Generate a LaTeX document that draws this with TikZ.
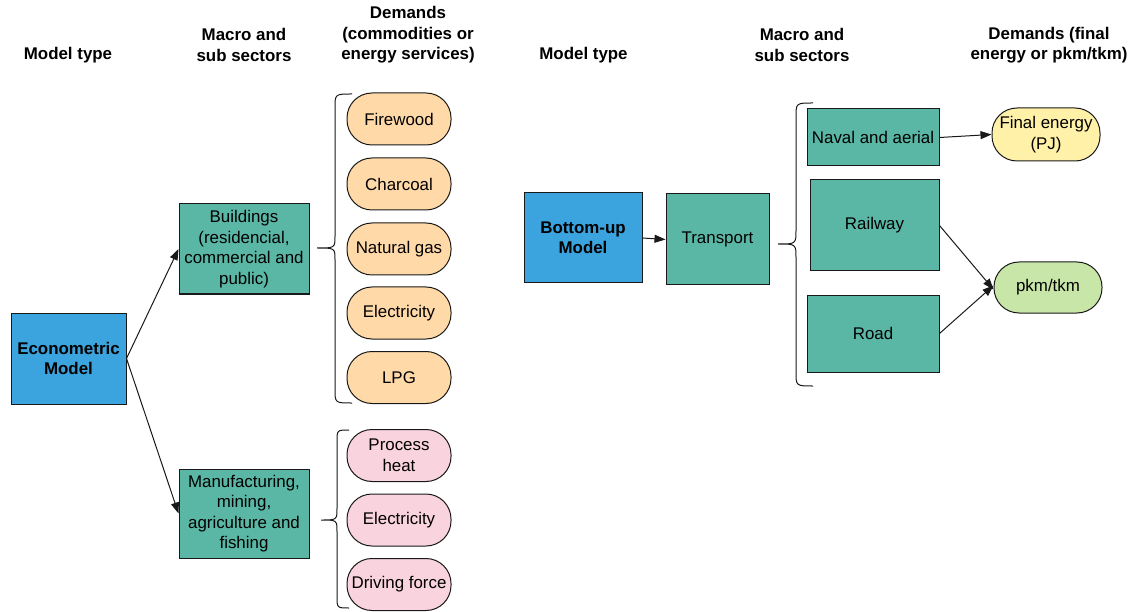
\documentclass[tikz,border=0pt]{standalone}
\usepackage{fontspec}
\setmainfont{Liberation Sans}
\usetikzlibrary{arrows.meta}
\definecolor{modelblue}{RGB}{59,163,222}
\definecolor{sector}{RGB}{90,183,165}
\definecolor{demorange}{RGB}{255,218,168}
\definecolor{dempink}{RGB}{249,211,222}
\definecolor{demyellow}{RGB}{255,241,168}
\definecolor{demgreen}{RGB}{200,230,168}
\definecolor{edge}{RGB}{25,25,25}
\begin{document}
\begin{tikzpicture}[x=1pt,y=-1pt,
  every node/.style={font=\fontsize{16.9}{20.5}\selectfont, align=center, inner sep=0pt},
  header/.style={font=\fontsize{16.9}{20.5}\selectfont\bfseries},
  modelbox/.style={draw=edge, line width=1pt, fill=modelblue, font=\fontsize{16.9}{20.5}\selectfont\bfseries},
  sectorbox/.style={draw=edge, line width=1pt, fill=sector},
  pill/.style={draw=edge, line width=1pt, rounded corners=25pt, minimum width=104pt, minimum height=52pt},
  orangepill/.style={pill, fill=demorange},
  pinkpill/.style={pill, fill=dempink},
  conn/.style={draw=edge, line width=1pt, -{Triangle[length=11pt,width=8pt]}},
  bracestyle/.style={draw=edge, line width=1pt}
]
\useasboundingbox (0,0) rectangle (1132,612);

% headers
\node[header] (h1) at (68,55) {Model type};
\node[header] (h2) at (244,45) {Macro and\\sub sectors};
\node[header] (h3) at (408,35) {Demands\\(commodities or\\energy services)};
\node[header] (h4) at (583.5,55) {Model type};
\node[header] (h5) at (802,45) {Macro and\\sub sectors};
\node[header] (h6) at (1049,45) {Demands (final\\energy or pkm/tkm)};

% left side
\node[modelbox, minimum width=115pt, minimum height=91pt] (econ) at (68.5,358.5) {Econometric\\Model};
\node[sectorbox, minimum width=130pt, minimum height=90pt] (build) at (244,249) {Buildings\\(residencial,\\commercial and\\public)};
\node[sectorbox, minimum width=130pt, minimum height=89pt] (manuf) at (244,513.5) {Manufacturing,\\mining,\\agriculture and\\fishing};

\node[orangepill] (fire) at (399,119) {Firewood};
\node[orangepill] (char) at (399,184) {Charcoal};
\node[orangepill] (gas) at (399,249) {Natural gas};
\node[orangepill] (elec1) at (399,313) {Electricity};
\node[orangepill] (lpg) at (399,377.5) {LPG};

\node[pinkpill] (heat) at (399,455.5) {Process\\heat};
\node[pinkpill] (elec2) at (399,520) {Electricity};
\node[pinkpill] (drive) at (399,584.5) {Driving force};

\draw[conn] (econ.east) -- (build.west);
\draw[conn] (econ.east) -- (manuf.west);

% braces left
\draw[bracestyle] (352,94) .. controls (335,94) and (335,94) .. (335,108) -- (335,236)
  .. controls (335,248) and (335,248) .. (317,248) .. controls (335,248) and (335,248) .. (335,260)
  -- (335,389) .. controls (335,403) and (335,403) .. (352,403);
\draw[bracestyle] (349,430) .. controls (337,430) and (337,430) .. (337,442) -- (337,508)
  .. controls (337,520) and (337,520) .. (321,520) .. controls (337,520) and (337,520) .. (337,532)
  -- (337,596) .. controls (337,608) and (337,608) .. (349,608);

% right side
\node[modelbox, minimum width=118pt, minimum height=90pt] (bu) at (583,238) {Bottom-up\\Model};
\node[sectorbox, minimum width=103pt, minimum height=91pt] (tr) at (717.5,239.5) {Transport};
\node[sectorbox, minimum width=132pt, minimum height=57pt] (naval) at (873,137.5) {Naval and aerial};
\node[sectorbox, minimum width=129pt, minimum height=91pt] (rail) at (874.5,225.5) {Railway};
\node[sectorbox, minimum width=132pt, minimum height=77pt] (road) at (873,333.5) {Road};
\node[pill, fill=demyellow, minimum width=108pt, minimum height=53pt] (fe) at (1046,134.5) {Final energy\\(PJ)};
\node[pill, fill=demgreen, minimum width=108pt, minimum height=51pt] (pkm) at (1048,287.5) {pkm/tkm};

\draw[bracestyle] (813,103) .. controls (796,103) and (796,103) .. (796,117) -- (796,230)
  .. controls (796,244) and (796,244) .. (778,244) .. controls (796,244) and (796,244) .. (796,258)
  -- (796,372) .. controls (796,386) and (796,386) .. (813,386);

\draw[conn] (bu.east) -- (tr.west);
\draw[conn] (naval.east) -- (fe.west);
\draw[conn] (rail.east) -- ([yshift=-2pt]pkm.west);
\draw[conn] (road.east) -- ([yshift=2pt]pkm.west);
\end{tikzpicture}
\end{document}
